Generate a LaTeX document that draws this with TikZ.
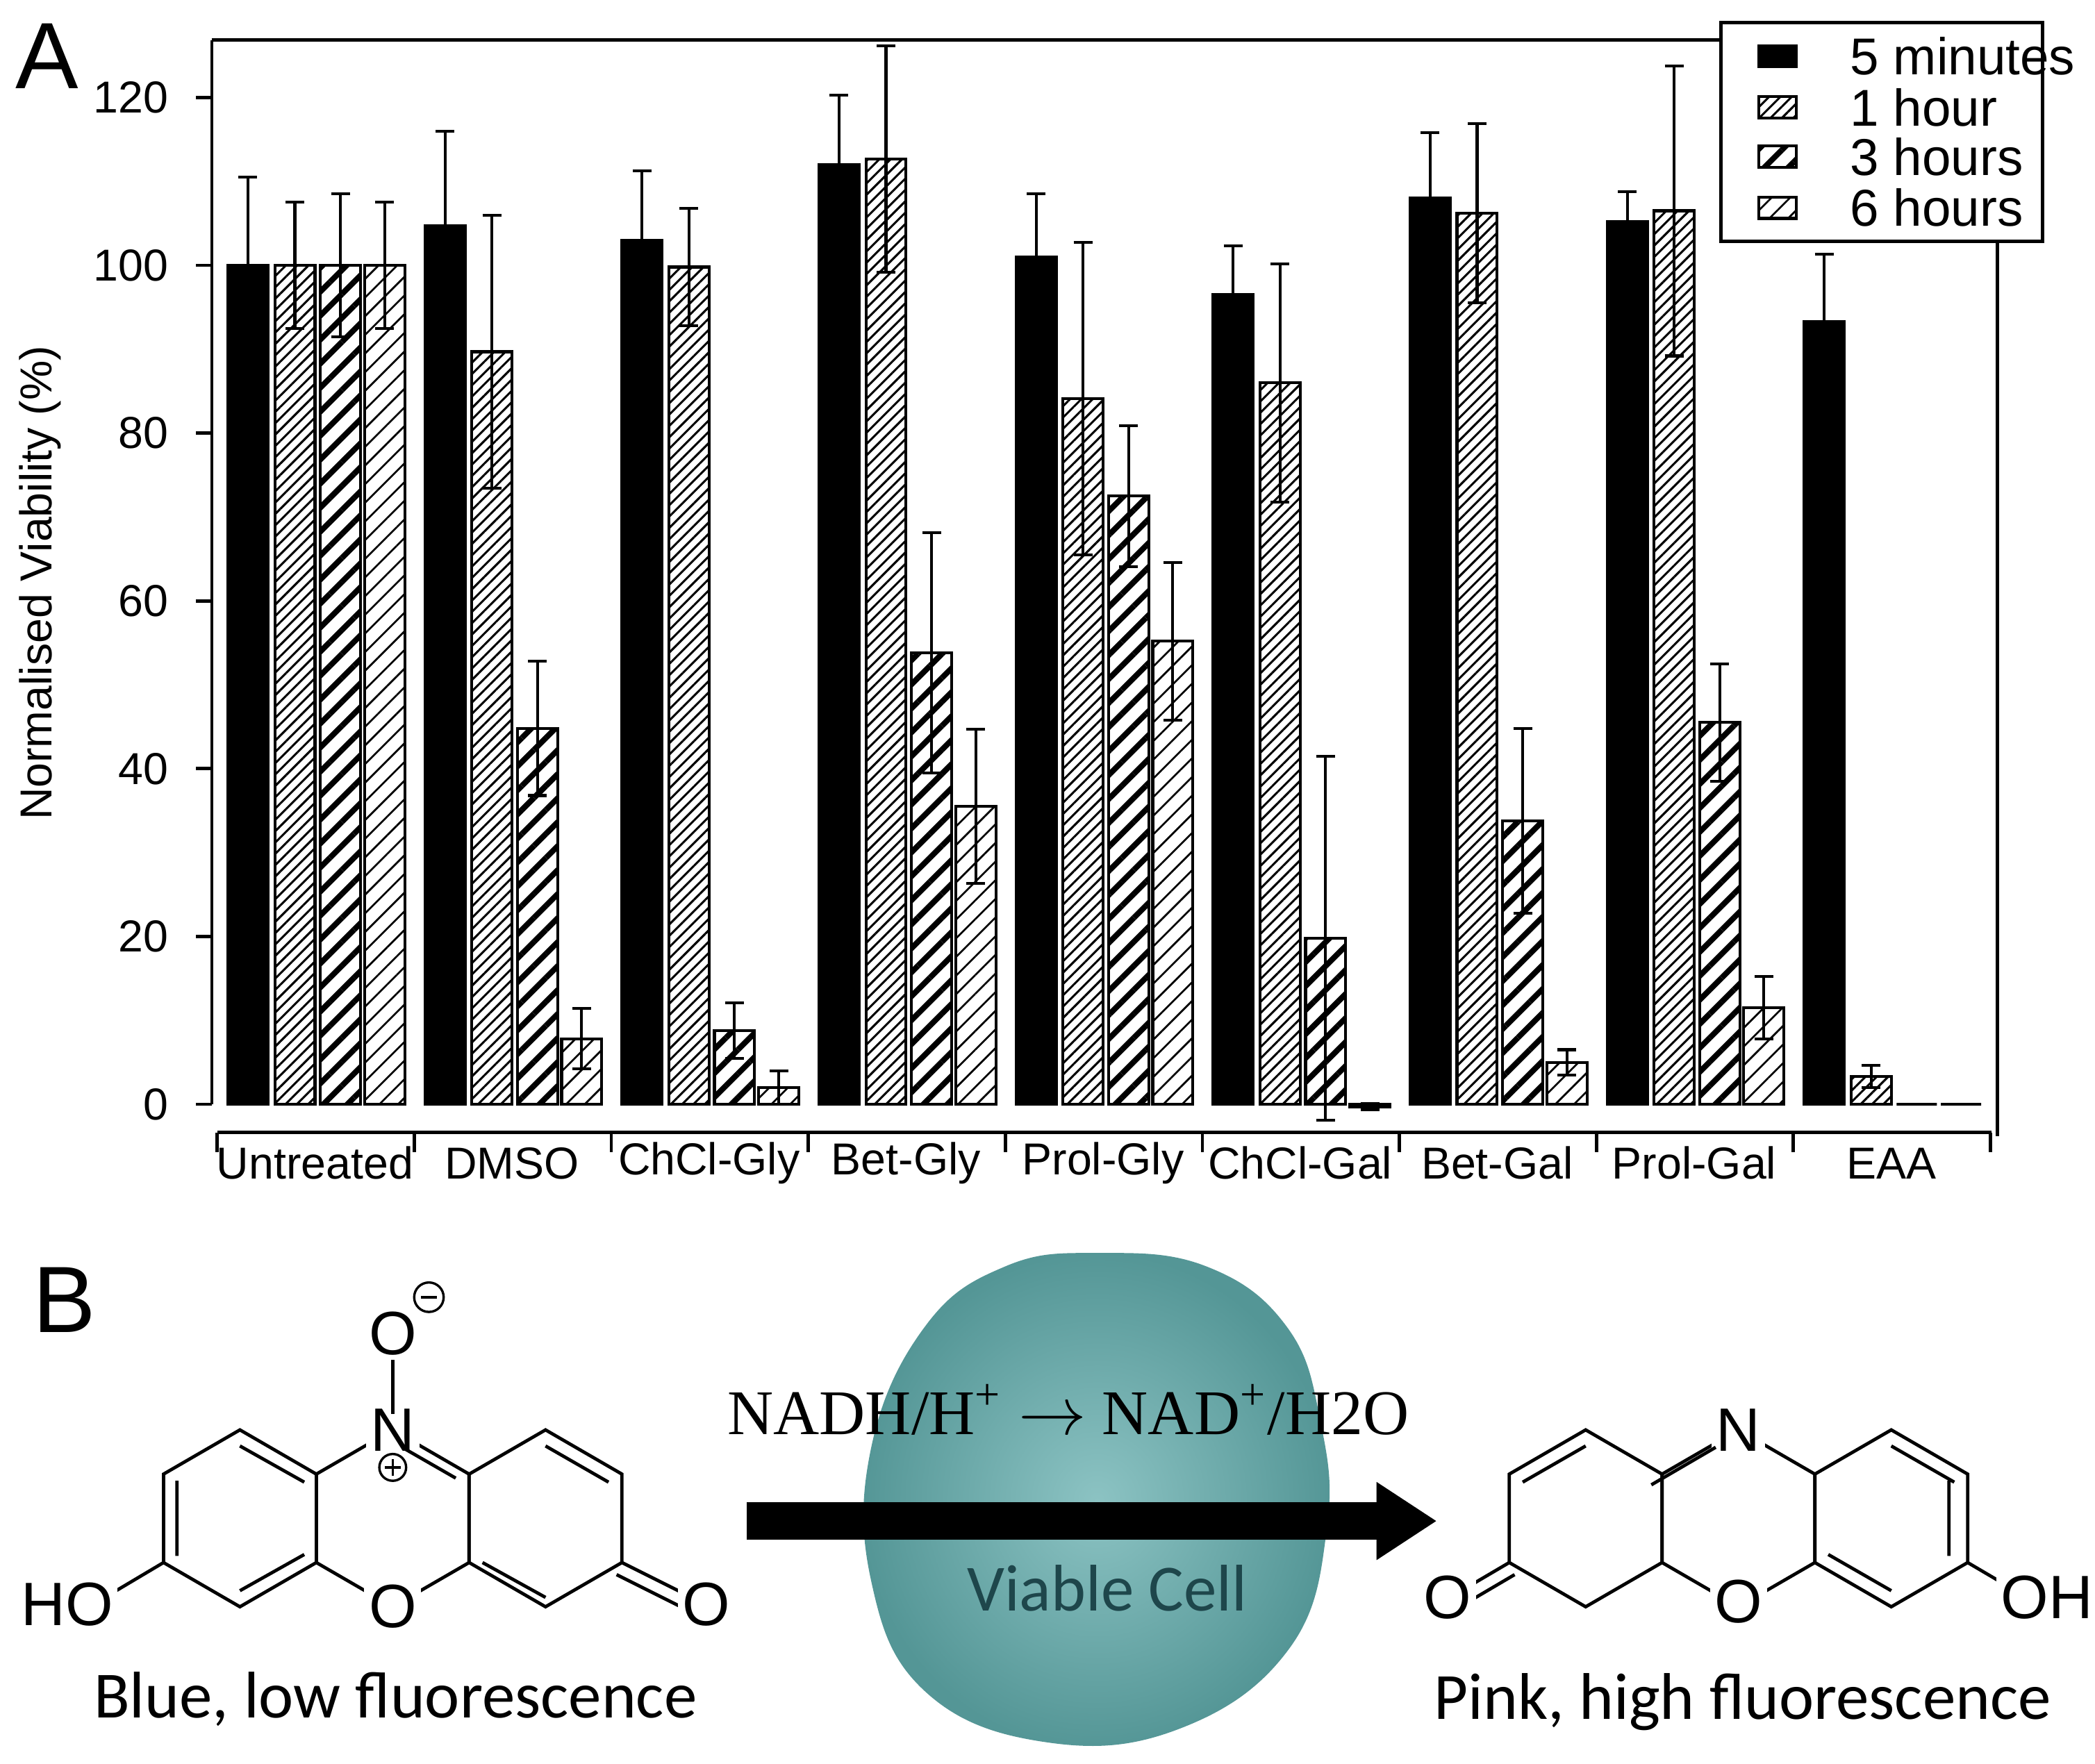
\documentclass[tikz,border=0pt]{standalone}
\usepackage{fontspec}
\setmainfont{Liberation Sans}
\newfontfamily\carl{Carlito}
\newfontfamily\serf{Liberation Serif}
\usetikzlibrary{patterns.meta,arrows.meta}
\definecolor{teal1}{RGB}{84,150,150}
\definecolor{teal2}{RGB}{140,195,195}
\definecolor{tealtxt}{RGB}{30,70,75}
\begin{document}
\begin{tikzpicture}[x=0.01cm,y=-0.01cm,
 b0/.style={fill=black,draw=black,line width=0.6pt},
 b1/.style={pattern={Lines[angle=45,distance=1.7pt,line width=0.45pt]},draw=black,line width=0.6pt},
 b2/.style={pattern={Lines[angle=45,distance=3.6pt,line width=1.2pt]},draw=black,line width=0.6pt},
 b3/.style={pattern={Lines[angle=45,distance=2.8pt,line width=0.4pt]},draw=black,line width=0.6pt},
 tl/.style={font=\fontsize{9.5}{11}\selectfont},
 bond/.style={line width=0.7pt},
 lab/.style={font=\fontsize{10}{12}\selectfont,fill=white,inner sep=1pt}]
\useasboundingbox (0,0) rectangle (1563,1316);
\newcommand\mybar[4]{%
 \path[#2] ({#1},824) rectangle ({#1+30},{824-6.26*(#3)});
 \ifx\relax#4\relax\else
 \draw[line width=0.6pt] ({#1+15},{824-6.26*(#3-#4)}) -- ({#1+15},{824-6.26*(#3+#4)});
 \draw[line width=0.6pt] ({#1+8},{824-6.26*(#3+#4)}) -- ({#1+22},{824-6.26*(#3+#4)});
 \draw[line width=0.6pt] ({#1+8},{824-6.26*(#3-#4)}) -- ({#1+22},{824-6.26*(#3-#4)});\fi}
\newcommand\grp[9]{%
 \mybar{#1+8}{b0}{#2}{#3}\mybar{#1+43}{b1}{#4}{#5}\mybar{#1+77}{b2}{#6}{#7}\mybar{#1+110}{b3}{#8}{#9}}
% frame
\draw[line width=0.7pt] (158,30) -- (1490,30) -- (1490,848);
\draw[line width=0.7pt] (158,30) -- (158,824);
\foreach \v in {0,20,...,120}{\draw[line width=0.7pt] (158,{824-6.26*\v}) -- (146,{824-6.26*\v});
 \node[tl,anchor=east] at (138,{824-6.26*\v}) {\v};}
\node[tl,rotate=90] at (30,435) {Normalised Viability (\%)};
\draw[line width=0.7pt] (162,845) -- (1486,845);
\foreach \k in {0,...,9}{\draw[line width=0.7pt] ({162+147*\k},845) -- ({162+147*\k},860);}
\foreach \n [count=\k from 0] in {Untreated,DMSO,ChCl-Gly,Bet-Gly,Prol-Gly,ChCl-Gal,Bet-Gal,Prol-Gal,EAA}
 \node[tl] at ({235+147*\k},868) {\n};
\grp{162}{100}{10.5}{100}{7.5}{100}{8.5}{100}{7.5}
\grp{309}{104.7}{11.3}{89.7}{16.3}{44.8}{8}{7.8}{3.6}
\grp{456}{103}{8.3}{99.8}{7}{8.8}{3.3}{2}{2}
\grp{603}{112}{8.3}{112.7}{13.5}{53.8}{14.3}{35.5}{9.2}
\grp{750}{101}{7.5}{84.1}{18.6}{72.5}{8.4}{55.2}{9.4}
\grp{897}{96.5}{5.8}{86}{14.2}{19.8}{21.7}{-0.3}{0.4}
\grp{1044}{108}{7.8}{106.2}{10.7}{33.8}{11}{5}{1.5}
\grp{1191}{105.2}{3.6}{106.5}{17.3}{45.5}{7}{11.5}{3.7}
\grp{1338}{93.3}{8}{3.3}{1.3}{0}{}{0}{}
% legend
\draw[fill=white,line width=0.7pt] (1284,17) rectangle (1524,180);
\foreach \s/\t/\yy in {b0/5 minutes/42,b1/1 hour/80,b2/3 hours/117,b3/6 hours/155}{
 \path[\s] (1312,\yy-8) rectangle (1340,\yy+8);
 \node[tl,anchor=west,font=\fontsize{11}{13}\selectfont] at (1368,\yy) {\t};}
\node[font=\fontsize{20}{22}\selectfont] at (35,42) {A};
\node[font=\fontsize{20}{22}\selectfont] at (48,970) {B};
% cell
\shade[inner color=teal2,outer color=teal1] plot[smooth cycle,tension=0.7] coordinates{(820,935) (900,945) (960,990) (985,1060) (990,1140) (962,1230) (880,1290) (780,1300) (690,1262) (650,1180) (650,1080) (690,990) (750,945)};
\node[font=\carl\fontsize{14}{16}\selectfont,text=tealtxt] (vc) at (826,1185) {Viable Cell};
\node[font=\serf\fontsize{13.5}{16}\selectfont] (eq) at (797,1052) {NADH/H\textsuperscript{+} $\rightarrow$ NAD\textsuperscript{+}/H2O};
\coordinate (a1) at (557,1135); \coordinate (a2) at (1072,1135);
\draw[line width=0.28cm,-{Triangle[length=0.45cm,width=0.55cm]}] (a1) -- (a2);
% left molecule
\begin{scope}[bond]
\foreach \cx in {179,293,407}{\draw (\cx,1067) -- (\cx+57,1100) -- (\cx+57,1166) -- (\cx,1199) -- (\cx-57,1166) -- (\cx-57,1100) -- cycle;}
\end{scope}
\node[lab,font=\fontsize{13}{15}\selectfont] at (293,1067) {N};
\node[lab,font=\fontsize{13}{15}\selectfont] at (293,1199) {O};
\draw[bond] (293,1055) -- (293,1012);
\node[lab,font=\fontsize{13}{15}\selectfont] at (293,995) {O};
\draw[line width=0.5pt] (320,968) circle (11); \draw[line width=0.5pt] (314,968) -- (326,968);
\draw[line width=0.5pt] (293,1095) circle (10); \draw[line width=0.5pt] (287,1095)--(299,1095) (293,1089)--(293,1101);
\draw[bond] (132,1105) -- (132,1161) (179,1079) -- (227,1106) (179,1187) -- (227,1160)
 (300,1080) -- (340,1103) (407,1079) -- (454,1106) (360,1166) -- (407,1192) ;
\draw[bond] (122,1166) -- (85,1188); \node[lab,font=\fontsize{13}{15}\selectfont] at (50,1197) {HO};
\draw[bond] (464,1166) -- (512,1190) (460,1175) -- (508,1199); \node[lab,font=\fontsize{13}{15}\selectfont] at (527,1197) {O};
\node[font=\carl\fontsize{14}{16}\selectfont] at (295,1268) {Blue, low fluorescence};
% right molecule
\begin{scope}[bond]
\foreach \cx in {1183,1297,1411}{\draw (\cx,1067) -- (\cx+57,1100) -- (\cx+57,1166) -- (\cx,1199) -- (\cx-57,1166) -- (\cx-57,1100) -- cycle;}
\end{scope}
\node[lab,font=\fontsize{13}{15}\selectfont] at (1297,1067) {N};
\node[lab,font=\fontsize{13}{15}\selectfont] at (1297,1195) {O};
\draw[bond] (1183,1079) -- (1136,1106) (1232,1108) -- (1280,1080) (1411,1079) -- (1458,1106) (1454,1105) -- (1454,1161) (1411,1187) -- (1364,1160);
\draw[bond] (1126,1166) -- (1092,1186) (1130,1175) -- (1096,1195); \node[lab,font=\fontsize{13}{15}\selectfont] at (1080,1192) {O};
\draw[bond] (1468,1166) -- (1502,1186); \node[lab,font=\fontsize{13}{15}\selectfont] at (1527,1192) {OH};
\node[font=\carl\fontsize{14}{16}\selectfont] at (1300,1270) {Pink, high fluorescence};
\end{tikzpicture}
\end{document}
